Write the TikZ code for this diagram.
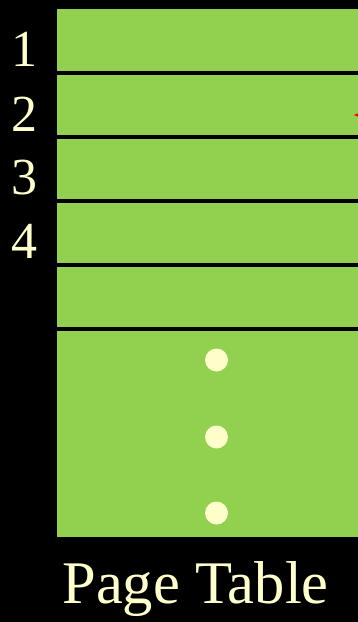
\documentclass[tikz,border=0pt]{standalone}
\usepackage{fontspec}
\setmainfont{Liberation Serif}
\usetikzlibrary{arrows.meta}
\definecolor{tablegreen}{HTML}{92D050}
\definecolor{cream}{HTML}{FFFFCC}

\begin{document}
\begin{tikzpicture}
    [x=1pt, y=-1pt,
    rowline/.style={line width=3.5pt, black},
    dot/.style={circle, fill=cream, inner sep=0pt, minimum size=23pt},
    entrynum/.style={text=cream, inner sep=0pt, font=\fontsize{52}{52}\selectfont}]
        \useasboundingbox (0,0) rectangle (358,622);
        \fill[black] (0,0) rectangle (358,622);

        %% Page table
        \node[fill=tablegreen, inner sep=0pt, minimum width=301pt, minimum height=528pt, anchor=north west] (PT) at (57,9) {};
        \foreach \i in {1,...,5}
            \draw[rowline] (PT.north west) ++(0,64*\i) coordinate (L\i) -- (L\i -| PT.east);

        %% Entry numbers
        \foreach \i/\y in {1/49,2/114,3/178,4/241}
            \node[entrynum] (N\i) at (24,\y) {\i};

        %% Dots
        \foreach \i/\y in {1/360,2/437,3/513}
            \node[dot] (D\i) at (216.5,\y) {};

        %% Arrow into entry 2
        \coordinate (A) at (380,115);
        \coordinate (E2) at (353,115);
        \draw[red, line width=2pt, -{Latex[length=10pt, width=9pt]}] (A) -- (E2);

        \node[text=cream, anchor=base, inner sep=0pt, font=\fontsize{60.5}{60}\selectfont] (title) at (195.5,603) {Page Table};
    \end{tikzpicture}
\end{document}
